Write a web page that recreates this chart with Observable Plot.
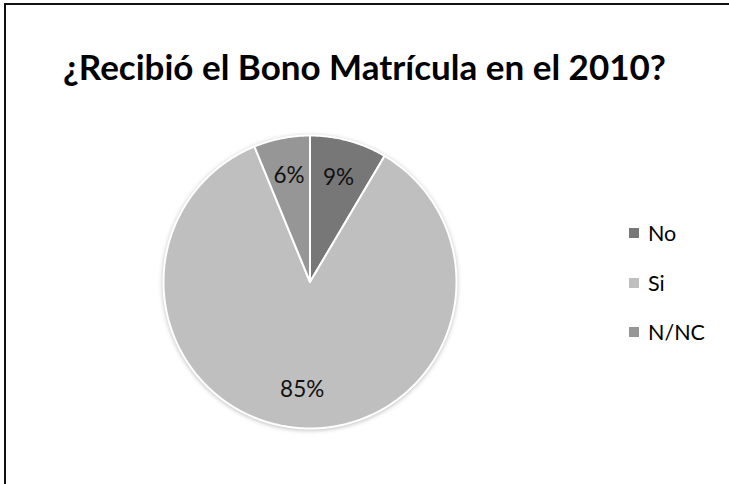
<!DOCTYPE html>
<html>
<head>
<meta charset="utf-8">
<script src="https://cdn.jsdelivr.net/npm/d3@7"></script>
<script src="https://cdn.jsdelivr.net/npm/@observablehq/plot@0.6"></script>
<style>
  html, body { margin: 0; padding: 0; background: #fff; overflow: hidden; width: 729px; height: 484px; }
  #page { position: relative; width: 729px; height: 484px; overflow: hidden; background: #fff; }
  #frame { position: absolute; left: 4px; top: 3px; width: 900px; height: 700px;
           border-left: 2px solid #111; border-top: 2px solid #111; box-sizing: border-box; }
  #title { position: absolute; left: 0; width: 729px; top: 45px; text-align: center; line-height: 42px;
           font-family: Lato, "Open Sans", sans-serif; font-weight: 700; font-size: 35px; color: #000; z-index: 2; }
  #chart { position: absolute; left: 0; top: 0; z-index: 1; }
  #legend { position: absolute; left: 629px; top: 222px; z-index: 2;
            font-family: Lato, "Open Sans", sans-serif; font-size: 21.5px; color: #000; }
  .item { display: flex; align-items: center; height: 22px; margin-bottom: 27.5px; }
  .sw { width: 10px; height: 10px; margin-right: 9px; }
  #chart svg .slices { filter: drop-shadow(0px 1px 2px rgba(0,0,0,0.25)); }
</style>
</head>
<body>
<div id="page">
  <div id="frame"></div>
  <div id="title">¿Recibió el Bono Matrícula en el 2010?</div>
  <div id="chart"></div>
  <div id="legend"></div>
</div>
<script>
const categories = ["No", "Si", "N/NC"];
const values = [8.5, 85.3, 6.2];
const labels = ["9%", "85%", "6%"];
const colors = ["#777777", "#bfbfbf", "#969696"];

// layout
const W = 729, H = 484;
const cx = 309.5, cy = 281.5, R = 146.5;
const labelR = 0.74;

const total = d3.sum(values);
let acc = 0;
const slices = categories.map((c, i) => {
  const a0 = acc / total * 2 * Math.PI;
  acc += values[i];
  const a1 = acc / total * 2 * Math.PI;
  return {category: c, value: values[i], label: labels[i], a0, a1};
});

const points = [];
for (const s of slices) {
  points.push({category: s.category, x: 0, y: 0});
  const n = Math.max(8, Math.ceil((s.a1 - s.a0) / (Math.PI / 360)));
  for (let k = 0; k <= n; k++) {
    const a = s.a0 + (s.a1 - s.a0) * k / n;
    points.push({category: s.category, x: Math.sin(a), y: Math.cos(a)});
  }
}
const labelPts = slices.map(s => {
  const m = (s.a0 + s.a1) / 2;
  return {label: s.label, x: labelR * Math.sin(m), y: labelR * Math.cos(m)};
});

const chart = Plot.plot({
  width: W,
  height: H,
  x: {domain: [-1, 1], range: [cx - R, cx + R], axis: null},
  y: {domain: [-1, 1], range: [cy + R, cy - R], axis: null},
  color: {domain: categories, range: colors},
  style: {background: "transparent", fontFamily: "Lato, 'Open Sans', sans-serif"},
  marks: [
    Plot.line(points, {x: "x", y: "y", z: "category", fill: "category", stroke: "white",
      strokeWidth: 2, strokeLinejoin: "round", curve: "linear-closed", className: "slices"}),
    Plot.text(labelPts, {x: "x", y: "y", text: "label", fontSize: 22.5, fill: "#111",
      textAnchor: "middle", lineAnchor: "middle"})
  ]
});
document.getElementById("chart").appendChild(chart);

const legend = document.getElementById("legend");
categories.forEach((c, i) => {
  const item = document.createElement("div");
  item.className = "item";
  const sw = document.createElement("div");
  sw.className = "sw";
  sw.style.background = colors[i];
  const t = document.createElement("span");
  t.textContent = c;
  item.appendChild(sw);
  item.appendChild(t);
  legend.appendChild(item);
});
</script>
</body>
</html>
